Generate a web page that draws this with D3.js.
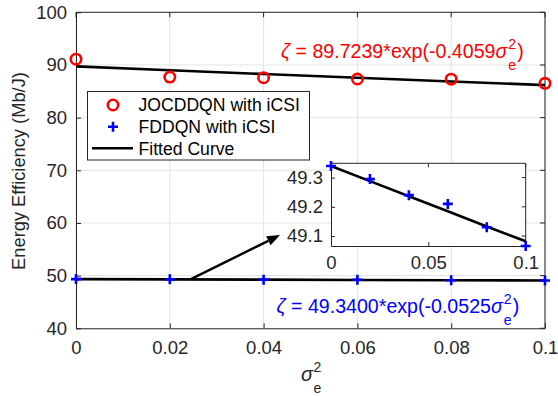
<!DOCTYPE html>
<html><head><meta charset="utf-8">
<script src="https://cdn.jsdelivr.net/npm/d3@7"></script>
<style>body{margin:0;background:#fff}svg{display:block}text{font-family:"Liberation Sans",Arial,Helvetica,sans-serif}</style>
</head><body><svg id="c" width="558" height="396"></svg>
<script>
const xValues = [0, 0.02, 0.04, 0.06, 0.08, 0.1];
const jocddqn = [91.1, 87.7, 87.58, 87.33, 87.31, 86.52];
const fddqn = [49.34, 49.295, 49.24, 49.21, 49.13, 49.066];
const fitRed = [89.724, 89.003, 88.288, 87.579, 86.875, 86.177];
const fitBlue = [49.340, 49.288, 49.236, 49.185, 49.133, 49.082];
const xTicks = [0, 0.02, 0.04, 0.06, 0.08, 0.1];
const xTickLabels = ["0", "0.02", "0.04", "0.06", "0.08", "0.1"];
const yTicks = [40, 50, 60, 70, 80, 90, 100];
const insetXTicks = [0, 0.05, 0.1];
const insetXTickLabels = ["0", "0.05", "0.1"];
const insetYTicks = [49.1, 49.2, 49.3];
const legendLabels = ["JOCDDQN with iCSI", "FDDQN with iCSI", "Fitted Curve"];
const redEq = {zeta: "\u03B6", body: " = 89.7239*exp(-0.4059", sigma: "\u03C3", sup: "2", sub: "e", suffix: ")"};
const blueEq = {zeta: "\u03B6", body: " = 49.3400*exp(-0.0525", sigma: "\u03C3", sup: "2", sub: "e", suffix: ")"};
const arrowFrom = [0.0245, 49.34];
const arrowTo = [0.0435, 57.7];

const svg = d3.select("#c");
const axCol = "#262626";
const W = {l: 76, r: 545, t: 12.3, b: 328.3};
const x = d3.scaleLinear().domain([0, 0.1]).range([W.l, W.r]);
const y = d3.scaleLinear().domain([40, 100]).range([W.b, W.t]);

// grid
const g = svg.append("g");
g.selectAll(".gx").data(xTicks).join("line")
  .attr("x1", d => x(d)).attr("x2", d => x(d)).attr("y1", W.t).attr("y2", W.b)
  .attr("stroke", "#e3e3e3").attr("stroke-width", 1);
g.selectAll(".gy").data(yTicks).join("line")
  .attr("y1", d => y(d)).attr("y2", d => y(d)).attr("x1", W.l).attr("x2", W.r)
  .attr("stroke", "#e3e3e3").attr("stroke-width", 1);

// axes
const xAxis = d3.axisBottom(x).tickValues(xTicks).tickFormat((d, i) => xTickLabels[i]).tickSizeInner(-5).tickSizeOuter(0).tickPadding(13);
const yAxis = d3.axisLeft(y).tickValues(yTicks).tickFormat(d3.format("d")).tickSizeInner(-5).tickSizeOuter(0).tickPadding(9);
const gx = svg.append("g").attr("transform", `translate(0,${W.b})`).call(xAxis);
const gy = svg.append("g").attr("transform", `translate(${W.l},0)`).call(yAxis);
[gx, gy].forEach(a => {
  a.select(".domain").attr("stroke", axCol).attr("stroke-width", 1);
  a.selectAll(".tick line").attr("stroke", axCol);
  a.selectAll(".tick text").attr("fill", axCol).attr("font-size", 18.5).attr("font-family", '"Liberation Sans",Arial,sans-serif');
});
svg.append("line").attr("x1", W.l).attr("x2", W.r).attr("y1", W.t).attr("y2", W.t).attr("stroke", axCol);
svg.append("line").attr("x1", W.r).attr("x2", W.r).attr("y1", W.t).attr("y2", W.b).attr("stroke", axCol);
xTicks.forEach(d => svg.append("line").attr("x1", x(d)).attr("x2", x(d)).attr("y1", W.t).attr("y2", W.t + 5).attr("stroke", axCol));
yTicks.forEach(d => svg.append("line").attr("x1", W.r).attr("x2", W.r - 5).attr("y1", y(d)).attr("y2", y(d)).attr("stroke", axCol));

// labels
svg.append("text").attr("transform", "translate(25,171) rotate(-90)").attr("text-anchor", "middle")
  .attr("font-size", 18.3).attr("fill", axCol).text("Energy Efficiency (Mb/J)");

// x label sigma_e^2
(function () {
  const xx = 301, yy = 381, size = 20;
  const t = svg.append("text").attr("x", xx).attr("y", yy).attr("font-size", size).attr("font-style", "italic").attr("fill", axCol).text("\u03C3");
  const w = t.node().getComputedTextLength();
  svg.append("text").attr("x", xx + w + 0.5).attr("y", yy - 9).attr("font-size", 14).attr("fill", axCol).text("2");
  svg.append("text").attr("x", xx + w + 0.5).attr("y", yy + 12).attr("font-size", 14).attr("fill", axCol).text("e");
})();

// fitted lines
const line = d3.line().x((d, i) => x(xValues[i])).y(d => y(d));
svg.append("path").attr("d", line(fitRed)).attr("fill", "none").attr("stroke", "#000").attr("stroke-width", 2.6);
svg.append("path").attr("d", line(fitBlue)).attr("fill", "none").attr("stroke", "#000").attr("stroke-width", 2.6);

// markers
function plus(sel, cx, cy, s) {
  sel.append("path").attr("d", `M${cx - s},${cy}H${cx + s}M${cx},${cy - s}V${cy + s}`)
    .attr("stroke", "#0000ff").attr("stroke-width", 2.6).attr("fill", "none");
}
svg.selectAll(".rc").data(jocddqn).join("circle")
  .attr("cx", (d, i) => x(xValues[i])).attr("cy", d => y(d)).attr("r", 5.2)
  .attr("fill", "none").attr("stroke", "#ff0000").attr("stroke-width", 2.6);
fddqn.forEach((d, i) => plus(svg, x(xValues[i]), y(d), 5));

// arrow
const ax1 = x(arrowFrom[0]), ay1 = y(arrowFrom[1]), ax2 = x(arrowTo[0]), ay2 = y(arrowTo[1]);
const ang = Math.atan2(ay2 - ay1, ax2 - ax1);
const hl = 13, hw = 5;
const bx = ax2 - hl * Math.cos(ang), by = ay2 - hl * Math.sin(ang);
svg.append("line").attr("x1", ax1).attr("y1", ay1).attr("x2", bx).attr("y2", by).attr("stroke", "#000").attr("stroke-width", 2.4);
svg.append("path").attr("d", `M${ax2},${ay2}L${bx - hw * Math.sin(ang)},${by + hw * Math.cos(ang)}L${bx + hw * Math.sin(ang)},${by - hw * Math.cos(ang)}Z`).attr("fill", "#000");

// equations
function equation(eq, xx, yy, color) {
  const fs = 19.6;
  const t = svg.append("text").attr("x", xx).attr("y", yy).attr("font-size", fs).attr("fill", color);
  t.append("tspan").attr("font-style", "italic").text(eq.zeta);
  t.append("tspan").text(eq.body);
  t.append("tspan").attr("font-style", "italic").text(eq.sigma);
  const w = t.node().getComputedTextLength();
  svg.append("text").attr("x", xx + w + 1).attr("y", yy - 9).attr("font-size", 14).attr("fill", color).text(eq.sup);
  svg.append("text").attr("x", xx + w + 1).attr("y", yy + 12).attr("font-size", 14).attr("fill", color).text(eq.sub);
  svg.append("text").attr("x", xx + w + 10).attr("y", yy).attr("font-size", fs).attr("fill", color).text(eq.suffix);
}
equation(redEq, 281, 58, "#ff0000");
equation(blueEq, 276.5, 313, "#0000ff");

// legend
const lg = svg.append("g");
lg.append("rect").attr("x", 87.5).attr("y", 91.5).attr("width", 222).attr("height", 68.5)
  .attr("fill", "#fff").attr("stroke", axCol).attr("stroke-width", 1);
const ly = [105, 126.7, 148.3];
lg.append("circle").attr("cx", 113).attr("cy", ly[0]).attr("r", 5.2).attr("fill", "none").attr("stroke", "#ff0000").attr("stroke-width", 2.6);
plus(lg, 113, ly[1], 5);
lg.append("line").attr("x1", 92).attr("x2", 133).attr("y1", ly[2]).attr("y2", ly[2]).attr("stroke", "#000").attr("stroke-width", 2.6);
legendLabels.forEach((s, i) => lg.append("text").attr("x", 138.5).attr("y", ly[i] + 6.3).attr("font-size", 17.6).attr("fill", "#000").text(s));

// inset
const I = {l: 331, r: 525.7, t: 163.3, b: 246};
const xi = d3.scaleLinear().domain([0, 0.1]).range([I.l, I.r]);
const yi = d3.scaleLinear().domain([49.066, 49.349]).range([I.b, I.t]);
const ig = svg.append("g");
ig.append("rect").attr("x", I.l).attr("y", I.t).attr("width", I.r - I.l).attr("height", I.b - I.t).attr("fill", "#fff");
const ixAxis = d3.axisBottom(xi).tickValues(insetXTicks).tickFormat((d, i) => insetXTickLabels[i]).tickSizeInner(-4).tickSizeOuter(0).tickPadding(10);
const iyAxis = d3.axisLeft(yi).tickValues(insetYTicks).tickFormat(d3.format(".1f")).tickSizeInner(-4).tickSizeOuter(0).tickPadding(8);
const igx = ig.append("g").attr("transform", `translate(0,${I.b})`).call(ixAxis);
const igy = ig.append("g").attr("transform", `translate(${I.l},0)`).call(iyAxis);
[igx, igy].forEach(a => {
  a.select(".domain").attr("stroke", axCol).attr("stroke-width", 1);
  a.selectAll(".tick line").attr("stroke", axCol);
  a.selectAll(".tick text").attr("fill", axCol).attr("font-size", 18.5).attr("font-family", '"Liberation Sans",Arial,sans-serif');
});
ig.append("line").attr("x1", I.l).attr("x2", I.r).attr("y1", I.t).attr("y2", I.t).attr("stroke", axCol);
ig.append("line").attr("x1", I.r).attr("x2", I.r).attr("y1", I.t).attr("y2", I.b).attr("stroke", axCol);
insetXTicks.forEach(d => ig.append("line").attr("x1", xi(d)).attr("x2", xi(d)).attr("y1", I.t).attr("y2", I.t + 4).attr("stroke", axCol));
insetYTicks.forEach(d => ig.append("line").attr("x1", I.r).attr("x2", I.r - 4).attr("y1", yi(d)).attr("y2", yi(d)).attr("stroke", axCol));
const iline = d3.line().x((d, i) => xi(xValues[i])).y(d => yi(d));
ig.append("path").attr("d", iline(fitBlue)).attr("fill", "none").attr("stroke", "#000").attr("stroke-width", 2.6);
fddqn.forEach((d, i) => plus(ig, xi(xValues[i]), yi(d), 5));
</script></body></html>
